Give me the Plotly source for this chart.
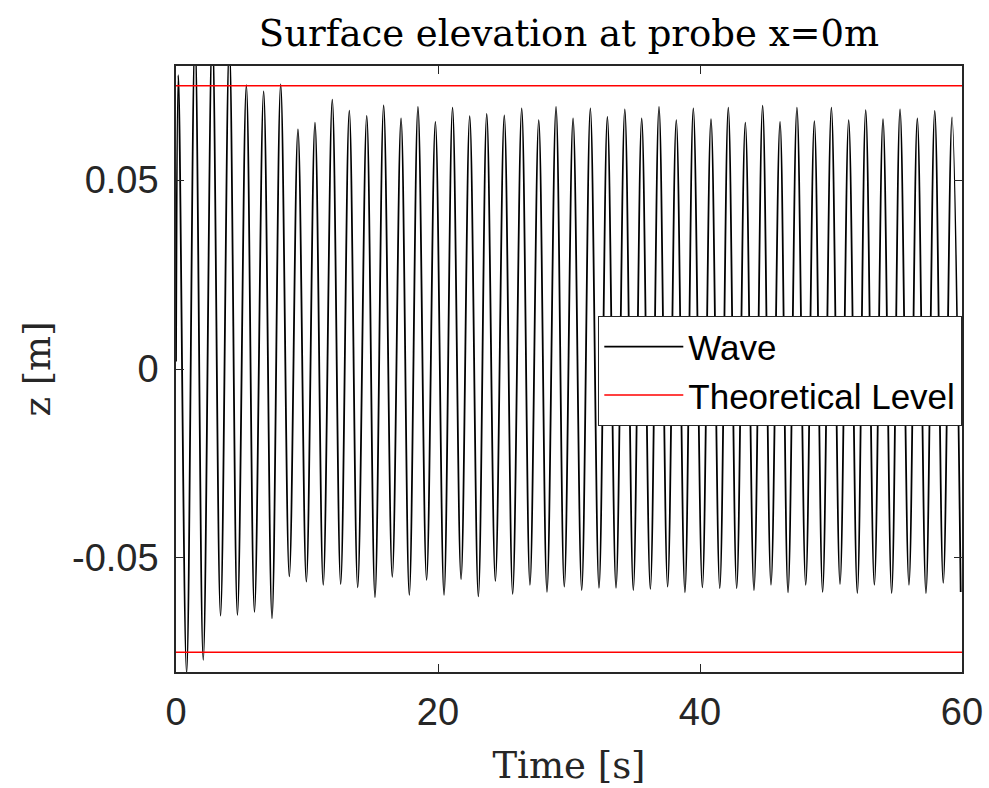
import plotly.graph_objects as go

# ---- data ----
peak_times = [0.18, 1.45, 2.77, 4.07, 5.37, 6.69, 7.99, 9.31, 10.61, 11.93, 13.23, 14.56,
              15.85, 17.18, 18.47, 19.80, 21.11, 22.42, 23.72, 25.06, 26.39, 27.69, 29.01,
              30.31, 31.63, 32.93, 34.26, 35.55, 36.87, 38.19, 39.49, 40.84, 42.16, 43.46,
              44.78, 46.11, 47.40, 48.73, 50.03, 51.35, 52.65, 53.97, 55.27, 56.59, 57.92, 59.24]
peak_values = [0.0778, 0.088, 0.090, 0.086, 0.0751, 0.0735, 0.0753, 0.0634, 0.0652, 0.0713,
               0.0684, 0.0670, 0.0698, 0.0663, 0.0694, 0.0654, 0.0692, 0.0669, 0.0675, 0.0671,
               0.0690, 0.0659, 0.0694, 0.0663, 0.0690, 0.0667, 0.0687, 0.0663, 0.0694, 0.0659,
               0.0690, 0.0661, 0.0692, 0.0652, 0.0697, 0.0654, 0.0692, 0.0656, 0.0692, 0.0659,
               0.0685, 0.0661, 0.0687, 0.0663, 0.0683, 0.0666]
trough_times = [0.81, 2.08, 3.40, 4.69, 5.99, 7.33, 8.65, 9.95, 11.24, 12.57, 13.87, 15.19,
                16.51, 17.81, 19.13, 20.46, 21.76, 23.08, 24.38, 25.70, 27.02, 28.32, 29.64,
                30.97, 32.29, 33.59, 34.91, 36.21, 37.53, 38.85, 40.18, 41.51, 42.80, 44.12,
                45.42, 46.72, 48.07, 49.36, 50.69, 52.01, 53.31, 54.63, 55.95, 57.25, 58.57, 59.9]
trough_values = [-0.0805, -0.0770, -0.0653, -0.0651, -0.0643, -0.0660, -0.0549, -0.0563,
                 -0.0571, -0.0569, -0.0578, -0.0604, -0.0550, -0.0598, -0.0558, -0.0598,
                 -0.0556, -0.0602, -0.0561, -0.0595, -0.0571, -0.0590, -0.0576, -0.0585,
                 -0.0579, -0.0579, -0.0585, -0.0582, -0.0576, -0.0591, -0.0578, -0.0580,
                 -0.0580, -0.0585, -0.0571, -0.0591, -0.0571, -0.0590, -0.0569, -0.0593,
                 -0.0571, -0.0593, -0.0571, -0.0593, -0.0566, -0.0590]
start_time, start_value = 0.0, 0.002
theory_level = 0.075
x_range = [0, 60]
y_range = [-0.0802, 0.0802]
x_ticks = [0, 20, 40, 60]
y_ticks = [-0.05, 0, 0.05]
y_tick_text = ["-0.05", "0", "0.05"]

# merge extrema in time order
pts = [(start_time, start_value)] + list(zip(peak_times, peak_values)) + list(zip(trough_times, trough_values))
pts.sort(key=lambda p: p[0])
wave_t = [p[0] for p in pts]
wave_z = [p[1] for p in pts]

fig = go.Figure()
fig.add_trace(go.Scatter(
    x=wave_t, y=wave_z, mode="lines", name="Wave",
    line=dict(color="black", width=1.8, shape="spline", smoothing=1.0),
))
fig.add_trace(go.Scatter(
    x=[x_range[0], x_range[1], None, x_range[0], x_range[1]],
    y=[theory_level, theory_level, None, -theory_level, -theory_level],
    mode="lines", name="Theoretical Level",
    line=dict(color="#ff0000", width=1.5),
))

axis_common = dict(
    showline=True, linecolor="#262626", linewidth=1.5, mirror="ticks",
    ticks="inside", ticklen=8, tickwidth=1.3, tickcolor="#262626",
    showgrid=False, zeroline=False, automargin=False, ticklabeloverflow="allow",
    tickfont=dict(family="Liberation Sans, Arial, sans-serif", size=38, color="#262626"),
)

W, H = 989, 788
fig.update_layout(
    width=W, height=H,
    margin=dict(l=176, r=27, t=66, b=116),
    paper_bgcolor="white", plot_bgcolor="white",
    title=dict(text="Surface elevation at probe x=0m", x=0.5, xref="paper", xanchor="center",
               y=1 - 33 / H, yref="container", yanchor="middle",
               font=dict(family="DejaVu Serif, serif", size=37, color="black")),
    xaxis=dict(range=x_range, tickvals=x_ticks, ticklabelstandoff=6,
               title=dict(text="Time [s]", standoff=20,
                          font=dict(family="DejaVu Serif, serif", size=37, color="#262626")),
               **axis_common),
    yaxis=dict(range=y_range, tickvals=y_ticks, ticktext=y_tick_text, ticklabelstandoff=8,
               title=dict(text="z [m]", standoff=10,
                          font=dict(family="DejaVu Serif, serif", size=37, color="#262626")),
               **axis_common),
    legend=dict(x=1, xanchor="right", y=0.5875, yanchor="top",
                bgcolor="white", bordercolor="#262626", borderwidth=1.3,
                font=dict(family="Liberation Sans, Arial, sans-serif", size=35, color="black"),
                itemwidth=79, tracegroupgap=0),
    showlegend=True,
)

# remove the page's default body margin so the figure sits at the window's top-left corner
fig.write_html("out.html", config={"displayModeBar": False},
               post_script="document.body.style.margin='0';")
